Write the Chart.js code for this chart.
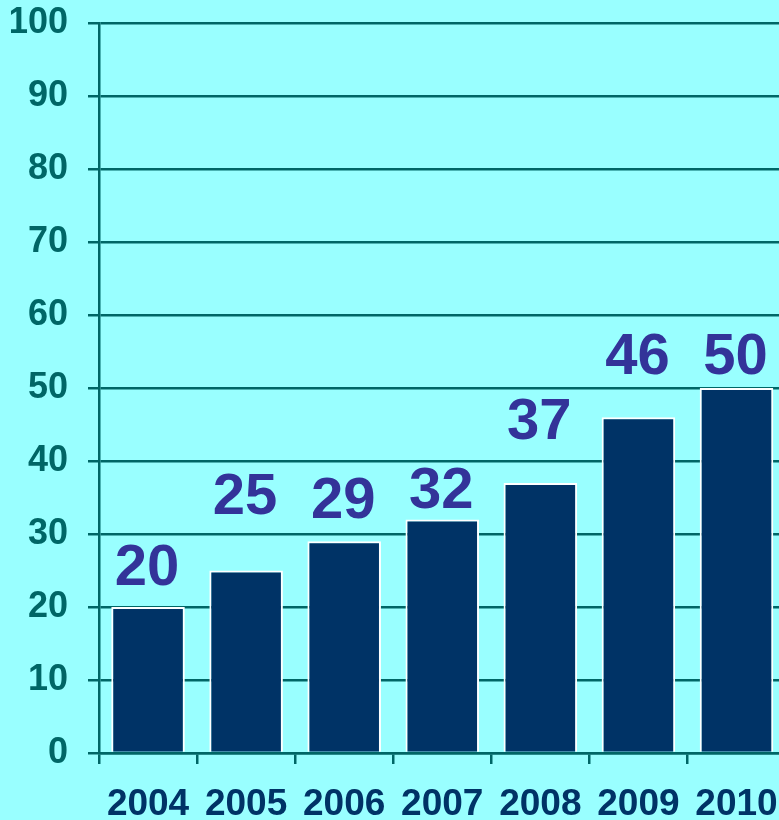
<!DOCTYPE html>
<html>
<head>
<meta charset="UTF-8">
<title>Chart</title>
<style>
    html, body {
        margin: 0;
        padding: 0;
        background-color: #99ffff;
        overflow: hidden;
    }
    .chart-box {
        position: relative;
        top: -15px;
        width: 800px;
        height: 860px;
    }
</style>
</head>
<body>
<div class="chart-box">
    <canvas id="barChart"></canvas>
</div>
<script src="https://cdn.jsdelivr.net/npm/chart.js"></script>
<script>
// du lieu
const years = ['2004', '2005', '2006', '2007', '2008', '2009', '2010'];
const values = [20, 25, 29, 32, 37, 46, 50];
const yTicks = [0, 10, 20, 30, 40, 50, 60, 70, 80, 90, 100];

// khoang cach nhan so tren cot (px)
const labelGaps = [22, 57, 23, 11, 44, 43, 14];

const valueLabels = {
    id: 'valueLabels',
    afterDatasetsDraw(chart) {
        const ctx = chart.ctx;
        const meta = chart.getDatasetMeta(0);
        ctx.save();
        ctx.font = 'bold 58px "Liberation Sans", Arial, sans-serif';
        ctx.fillStyle = '#333399';
        ctx.textAlign = 'center';
        ctx.textBaseline = 'alphabetic';
        meta.data.forEach((bar, i) => {
            ctx.fillText(values[i], bar.x - 1, bar.y - labelGaps[i]);
        });
        ctx.restore();
    }
};

new Chart(document.getElementById('barChart'), {
    type: 'bar',
    data: {
        labels: years,
        datasets: [{
            data: values,
            backgroundColor: '#003366',
            borderColor: '#ffffff',
            borderWidth: 2,
            barPercentage: 0.75,
            categoryPercentage: 1
        }]
    },
    options: {
        responsive: true,
        maintainAspectRatio: false,
        animation: false,
        layout: { padding: { left: 11, top: 8, right: 5, bottom: 0 } },
        plugins: {
            legend: { display: false },
            tooltip: { enabled: false }
        },
        scales: {
            x: {
                grid: {
                    offset: true,
                    drawOnChartArea: false,
                    drawTicks: true,
                    tickLength: 11,
                    color: '#006666',
                    lineWidth: 2.5
                },
                border: { color: '#006666', width: 2.5 },
                ticks: {
                    color: '#003366',
                    padding: 22,
                    font: { family: '"Liberation Sans", Arial, sans-serif', size: 37, weight: 'bold', lineHeight: 1 }
                }
            },
            y: {
                min: 0,
                max: 100,
                afterBuildTicks(axis) {
                    axis.ticks = yTicks.map(v => ({ value: v }));
                },
                afterFit(axis) {
                    axis.width = 88;
                },
                grid: {
                    color: '#006666',
                    lineWidth: 2.5,
                    tickLength: 11
                },
                border: { color: '#006666', width: 2.5 },
                ticks: {
                    color: '#006666',
                    padding: 20,
                    font: { family: '"Liberation Sans", Arial, sans-serif', size: 36, weight: 'bold', lineHeight: 1 }
                }
            }
        }
    },
    plugins: [valueLabels]
});
</script>
</body>
</html>
